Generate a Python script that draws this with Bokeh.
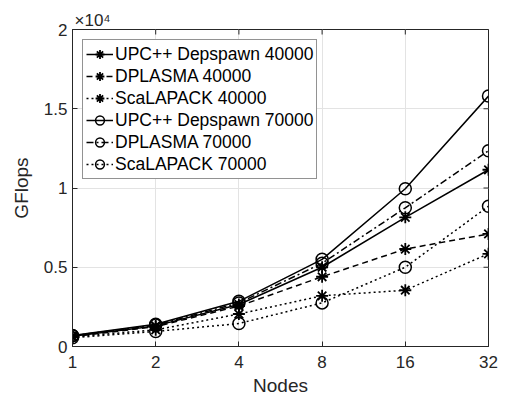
import math
from bokeh.plotting import figure
from bokeh.models import FixedTicker, Title, Range1d, Legend
from bokeh.embed import file_html
from bokeh.resources import INLINE

nodes = [1, 2, 4, 8, 16, 32]
upc_40k = [650, 1300, 2650, 5000, 8150, 11150]
dplasma_40k = [620, 1250, 2550, 4400, 6150, 7100]
scalapack_40k = [600, 1050, 2050, 3200, 3550, 5850]
upc_70k = [700, 1400, 2850, 5500, 9950, 15800]
dplasma_70k = [680, 1350, 2750, 5250, 8750, 12350]
scalapack_70k = [550, 950, 1450, 2750, 5000, 8850]

y_ticks = [0, 5000, 10000, 15000, 20000]
y_tick_labels = ["0", "0.5", "1", "1.5", "2"]
x_tick_labels = ["1", "2", "4", "8", "16", "32"]

FONT = "Liberation Sans"
TXT = "#262626"

x_lo, x_hi = nodes[0], nodes[-1]
y_lo, y_hi = y_ticks[0], y_ticks[-1]

p = figure(width=507, height=406, x_axis_type="log", output_backend="svg",
           toolbar_location=None, x_range=Range1d(x_lo, x_hi), y_range=Range1d(y_lo, y_hi),
           min_border_left=72, min_border_right=19, min_border_top=29, min_border_bottom=60)
p.outline_line_color = TXT
p.background_fill_color = "white"
p.border_fill_color = "white"

for ax in [p.xaxis[0], p.yaxis[0]]:
    ax.axis_line_color = TXT
    ax.major_tick_line_color = TXT
    ax.major_tick_in = 5
    ax.major_tick_out = 0
    ax.minor_tick_line_color = None
    ax.major_label_text_color = TXT
    ax.major_label_text_font = FONT
    ax.major_label_text_font_size = "17px"
    ax.axis_label_text_font = FONT
    ax.axis_label_text_font_size = "19px"
    ax.axis_label_text_font_style = "normal"
    ax.axis_label_text_color = TXT

p.xaxis[0].ticker = FixedTicker(ticks=nodes)
p.xaxis[0].major_label_overrides = {n: l for n, l in zip(nodes, x_tick_labels)}
p.xaxis[0].axis_label = "Nodes"
p.xaxis[0].major_label_standoff = 9
p.xaxis[0].axis_label_standoff = 4
p.yaxis[0].ticker = FixedTicker(ticks=y_ticks)
p.yaxis[0].major_label_overrides = {t: l for t, l in zip(y_ticks, y_tick_labels)}
p.yaxis[0].axis_label = "GFlops"
p.yaxis[0].major_label_standoff = 5
p.yaxis[0].axis_label_standoff = 9

# inward ticks on top and right edges (outer half clipped by the frame)
p.scatter(nodes, [y_hi] * len(nodes), marker="dash", angle=math.pi / 2, size=10,
          line_color=TXT, line_width=1)
p.scatter([x_hi] * len(y_ticks), y_ticks, marker="dash", size=10,
          line_color=TXT, line_width=1)

p.add_layout(Title(text="×10⁴", align="left", offset=2, standoff=0,
                   text_font=FONT, text_font_size="17px", text_font_style="normal",
                   text_color=TXT), "above")

p.xgrid.ticker = FixedTicker(ticks=nodes)
p.ygrid.ticker = FixedTicker(ticks=y_ticks)
p.grid.grid_line_color = "#e3e3e3"

series = [
    ("UPC++ Depspawn 40000", upc_40k, "solid", "asterisk"),
    ("DPLASMA 40000", dplasma_40k, "6 4", "asterisk"),
    ("ScaLAPACK 40000", scalapack_40k, "2 3", "asterisk"),
    ("UPC++ Depspawn 70000", upc_70k, "solid", "circle"),
    ("DPLASMA 70000", dplasma_70k, "7 3 2 3", "circle"),
    ("ScaLAPACK 70000", scalapack_70k, "2 3", "circle"),
]

items = []
for name, vals, dash, marker in series:
    r1 = p.line(nodes, vals, line_color="black", line_width=1.5, line_dash=dash)
    if marker == "circle":
        r2 = p.scatter(nodes, vals, marker="circle", size=12, fill_color=None,
                       line_color="black", line_width=1.5)
    else:
        r2 = p.scatter(nodes, vals, marker="asterisk", size=12,
                       line_color="black", line_width=1.8)
    items.append((name, [r1, r2]))

legend = Legend(items=items, location="top_left", margin=10, padding=3, spacing=0,
                glyph_width=27, glyph_height=22, label_height=22, label_standoff=2,
                label_text_font=FONT, label_text_font_size="17.5px", label_text_color="black",
                border_line_color=TXT, border_line_width=1, background_fill_alpha=1)
p.add_layout(legend, "center")

open("out.html", "w").write(file_html(p, INLINE))
